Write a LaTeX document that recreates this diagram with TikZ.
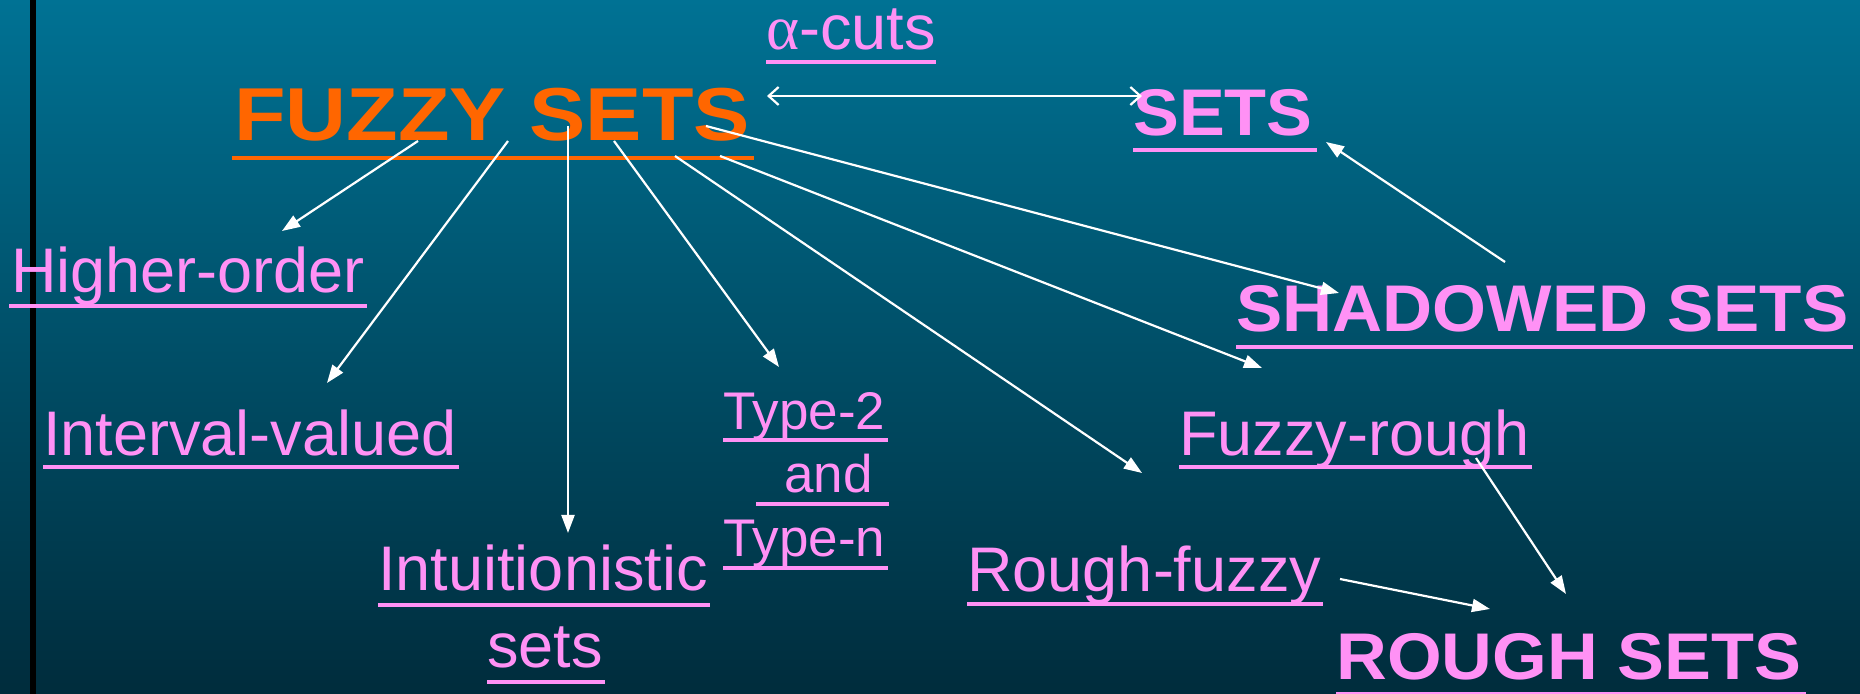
\documentclass[tikz,border=0pt]{standalone}
\usepackage{fontspec}
\setmainfont{Liberation Sans}
\newfontfamily\greekserif{Liberation Serif}
\usetikzlibrary{arrows.meta}
\definecolor{bgtop}{RGB}{0,114,148}
\definecolor{bgbot}{RGB}{0,44,60}
\definecolor{pinkc}{RGB}{255,145,245}
\definecolor{orangec}{RGB}{255,102,0}
\tikzset{
  lbl/.style={anchor=base west, inner sep=0pt, text=pinkc, font=\fontsize{31.5pt}{34pt}\selectfont},
  lblsm/.style={anchor=base west, inner sep=0pt, text=pinkc, font=\fontsize{26.5pt}{30pt}\selectfont},
  bigl/.style={anchor=base west, inner sep=0pt, text=pinkc, font=\bfseries\fontsize{33pt}{36pt}\selectfont},
  fuzzyl/.style={anchor=base west, inner sep=0pt, text=orangec, font=\bfseries\fontsize{37.5pt}{40pt}\selectfont},
  ul/.style={draw=pinkc, line width=1.6pt},
  ulbig/.style={draw=pinkc, line width=2pt},
  ulor/.style={draw=orangec, line width=2.3pt},
  arr/.style={draw=white, line width=1.1pt, -{Triangle[length=9pt,width=6.5pt]}},
  dbl/.style={draw=white, line width=1.1pt, {Straight Barb[length=5pt,width=9pt]}-{Straight Barb[length=5pt,width=9pt]}}
}
\begin{document}
\begin{tikzpicture}[x=0.5pt,y=-0.5pt]
\useasboundingbox (0,0) rectangle (1860,694);
\shade[top color=bgtop, bottom color=bgbot] (0,0) rectangle (1860,694);
\fill[black] (30,0) rectangle (36,694);

% labels
\node[lbl] (acuts) at (766,50) {{\greekserif α}-cuts};
\node[fuzzyl] (fuzzy) at (234,141) {\scalebox{1.125}[1]{FUZZY SETS}};
\node[bigl] (sets) at (1133,136) {\scalebox{1.04}[1]{SETS}};
\node[lbl] (higher) at (11,293) {Higher-order};
\node[bigl] (shadowed) at (1236,332) {\scalebox{1.05}[1]{SHADOWED SETS}};
\node[lbl] (interval) at (43,456) {Interval-valued};
\node[lbl] (fuzzyrough) at (1179,456) {Fuzzy-rough};
\node[lblsm] (type2) at (723,430) {Type-2};
\node[lblsm] (and) at (784,493) {and};
\node[lblsm] (typen) at (723,557) {Type-n};
\node[lbl] (intu) at (378,591) {Intuitionistic};
\node[lbl] (isets) at (487,668) {sets};
\node[lbl] (roughfuzzy) at (967,592) {Rough-fuzzy};
\node[bigl] (rough) at (1336,680) {\scalebox{1.065}[1]{ROUGH SETS}};

% underlines
\draw[ul] ([yshift=-6pt]acuts.base west) -- ([yshift=-6pt]acuts.base east);
\draw[ulor] ([yshift=-8.5pt,xshift=-1pt]fuzzy.base west) -- ([yshift=-8.5pt,xshift=2pt]fuzzy.base east);
\draw[ulbig] ([yshift=-7pt]sets.base west) -- ([yshift=-7pt,xshift=2pt]sets.base east);
\draw[ul] ([yshift=-6.5pt,xshift=-1pt]higher.base west) -- ([yshift=-6.5pt,xshift=1pt]higher.base east);
\draw[ulbig] ([yshift=-7.5pt]shadowed.base west) -- ([yshift=-7.5pt,xshift=2pt]shadowed.base east);
\draw[ul] ([yshift=-5.5pt]interval.base west) -- ([yshift=-5.5pt,xshift=1pt]interval.base east);
\draw[ul] ([yshift=-5.5pt]fuzzyrough.base west) -- ([yshift=-5.5pt,xshift=1pt]fuzzyrough.base east);
\draw[ul] ([yshift=-5pt]type2.base west) -- ([yshift=-5pt,xshift=1pt]type2.base east);
\draw[ul] ([yshift=-5.5pt,xshift=-14pt]and.base west) -- ([yshift=-5.5pt,xshift=8pt]and.base east);
\draw[ul] ([yshift=-5.5pt]typen.base west) -- ([yshift=-5.5pt,xshift=1pt]typen.base east);
\draw[ul] ([yshift=-7pt]intu.base west) -- ([yshift=-7pt,xshift=1pt]intu.base east);
\draw[ul] ([yshift=-7pt]isets.base west) -- ([yshift=-7pt,xshift=1pt]isets.base east);
\draw[ul] ([yshift=-6pt]roughfuzzy.base west) -- ([yshift=-6pt,xshift=1pt]roughfuzzy.base east);
\draw[ulbig] ([yshift=-7pt]rough.base west) -- ([yshift=-7pt,xshift=2pt]rough.base east);

% connector end points
\coordinate (s1) at (418,141); \coordinate (e1) at (282,231);
\coordinate (s2) at (508,141); \coordinate (e2) at (327,383);
\coordinate (s3) at (568,126); \coordinate (e3) at (568,533);
\coordinate (s4) at (614,141); \coordinate (e4) at (779,367);
\coordinate (s5) at (675,156); \coordinate (e5) at (1142,473);
\coordinate (s6) at (720,156); \coordinate (e6) at (1262,368);
\coordinate (s7) at (706,126); \coordinate (e7) at (1339,293);
\coordinate (s8) at (767,96);  \coordinate (e8) at (1142,96);
\coordinate (s9) at (1505,262); \coordinate (e9) at (1326,142);
\coordinate (s10) at (1476,458); \coordinate (e10) at (1566,594);
\coordinate (s11) at (1340,579); \coordinate (e11) at (1490,609);

\draw[arr] (s1) -- (e1);
\draw[arr] (s2) -- (e2);
\draw[arr] (s3) -- (e3);
\draw[arr] (s4) -- (e4);
\draw[arr] (s5) -- (e5);
\draw[arr] (s6) -- (e6);
\draw[arr] (s7) -- (e7);
\draw[dbl] (s8) -- (e8);
\draw[arr] (s9) -- (e9);
\draw[arr] (s10) -- (e10);
\draw[arr] (s11) -- (e11);
\end{tikzpicture}
\end{document}
